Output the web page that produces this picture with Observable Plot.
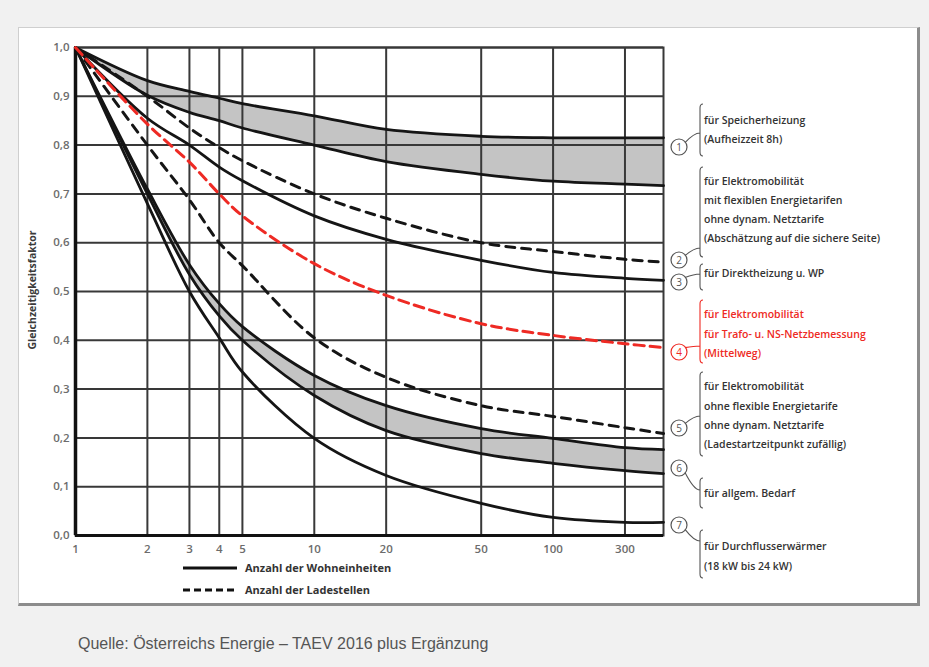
<!DOCTYPE html>
<html><head><meta charset="utf-8">
<script src="https://cdn.jsdelivr.net/npm/d3@7"></script>
<script src="https://cdn.jsdelivr.net/npm/@observablehq/plot@0.6"></script>
<style>
body{margin:0;background:#f1f1f1;width:929px;height:667px;position:relative;overflow:hidden}
#panel{position:absolute;left:18px;top:27px;width:902px;height:579px;background:#fff;border-top:1px solid #cfcfcf;border-left:1px solid #cfcfcf;border-right:3px solid #8c8c8c;border-bottom:3px solid #8c8c8c;box-sizing:border-box}
#chart{position:absolute;left:15px;top:28px}
#caption{position:absolute;left:78px;top:635px;font-family:"Liberation Sans",Arial,sans-serif;font-size:16px;color:#555}
</style></head><body>
<div id="panel"></div><div id="chart"></div>
<div id="caption">Quelle: Österreichs Energie – TAEV 2016 plus Ergänzung</div>
<script>
// ---- data ----
const xs = [1, 2, 3, 4, 5, 10, 20, 50, 100, 200, 290];
const c1Upper = [1.0, 0.932, 0.91, 0.896, 0.885, 0.86, 0.832, 0.818, 0.815, 0.815, 0.815];
const c1Lower = [1.0, 0.902, 0.867, 0.85, 0.835, 0.80, 0.766, 0.74, 0.726, 0.72, 0.717];
const c2Dashed = [1.0, 0.90, 0.835, 0.795, 0.768, 0.70, 0.65, 0.60, 0.582, 0.566, 0.56];
const c3Solid = [1.0, 0.855, 0.80, 0.755, 0.727, 0.655, 0.607, 0.564, 0.539, 0.527, 0.523];
const c4Red = [1.0, 0.843, 0.765, 0.70, 0.655, 0.557, 0.492, 0.434, 0.41, 0.393, 0.385];
const c5Dashed = [1.0, 0.80, 0.688, 0.60, 0.553, 0.405, 0.324, 0.266, 0.244, 0.221, 0.209];
const c6Upper = [1.0, 0.71, 0.555, 0.475, 0.428, 0.328, 0.266, 0.219, 0.199, 0.18, 0.176];
const c6Lower = [1.0, 0.70, 0.535, 0.45, 0.40, 0.287, 0.215, 0.168, 0.148, 0.133, 0.127];
const c7Solid = [1.0, 0.68, 0.50, 0.405, 0.335, 0.199, 0.123, 0.066, 0.037, 0.027, 0.027];

const xTicks = [1, 2, 3, 4, 5, 10, 20, 50, 100, 200];
const xTickLabels = ["1", "2", "3", "4", "5", "10", "20", "50", "100", "300"];
const yTicks = [0, 0.1, 0.2, 0.3, 0.4, 0.5, 0.6, 0.7, 0.8, 0.9, 1.0];

const yLabel = "Gleichzeitigkeitsfaktor";
const legendLabels = ["Anzahl der Wohneinheiten", "Anzahl der Ladestellen"];
const notes = [
  {n: "1", lines: ["für Speicherheizung", "(Aufheizzeit 8h)"], red: false},
  {n: "2", lines: ["für Elektromobilität", "mit flexiblen Energietarifen", "ohne dynam. Netztarife", "(Abschätzung auf die sichere Seite)"], red: false},
  {n: "3", lines: ["für Direktheizung u. WP"], red: false},
  {n: "4", lines: ["für Elektromobilität", "für Trafo- u. NS-Netzbemessung", "(Mittelweg)"], red: true},
  {n: "5", lines: ["für Elektromobilität", "ohne flexible Energietarife", "ohne dynam. Netztarife", "(Ladestartzeitpunkt zufällig)"], red: false},
  {n: "6", lines: ["für allgem. Bedarf"], red: false},
  {n: "7", lines: ["für Durchflusserwärmer", "(18 kW bis 24 kW)"], red: false}
];

// ---- layout (page px) ----
const noteLayout = [
  {cy: 147, top: 104, bot: 156, join: 133, ty: [120, 139]},
  {cy: 260, top: 167, bot: 257, join: 248, ty: [181, 200, 219, 238]},
  {cy: 282, top: 264, bot: 290, join: 274, ty: [273]},
  {cy: 352, top: 300, bot: 363, join: 346, ty: [314, 334, 353]},
  {cy: 428, top: 372, bot: 456, join: 416, ty: [386, 406, 425, 444]},
  {cy: 468, top: 478, bot: 508, join: 490, ty: [493]},
  {cy: 525, top: 530, bot: 578, join: 541, ty: [546, 566]}
];

const rows = ys => xs.map((x, i) => ({x, y: ys[i]}));
const band = (lo, hi) => xs.map((x, i) => ({x, y1: lo[i], y2: hi[i]}));
const grid = "#383838";
const curve = "catmull-rom";

const plot = Plot.plot({
  width: 905, height: 577,
  marginLeft: 60, marginRight: 257, marginTop: 19, marginBottom: 70,
  style: {background: "transparent", overflow: "visible", fontFamily: "'Open Sans', sans-serif", fontSize: "11.5px", color: "#6c6c6c"},
  x: {type: "log", domain: [1, 290], ticks: xTicks, tickSize: 0, tickPadding: 9, label: null,
      tickFormat: d => xTickLabels[xTicks.findIndex(t => Math.abs(t - d) < 1e-9)]},
  y: {domain: [0, 1], ticks: yTicks, tickSize: 0, tickPadding: 6, label: null,
      tickFormat: d => d.toFixed(1).replace(".", ",")},
  marks: [
    Plot.areaY(band(c1Lower, c1Upper), {x: "x", y1: "y1", y2: "y2", fill: "#c4c4c4", curve}),
    Plot.areaY(band(c6Lower, c6Upper), {x: "x", y1: "y1", y2: "y2", fill: "#c4c4c4", curve}),
    Plot.ruleY(yTicks, {stroke: grid, strokeWidth: 2}),
    Plot.ruleX(xTicks, {stroke: grid, strokeWidth: 2}),
    Plot.frame({stroke: grid, strokeWidth: 2}),
    Plot.ruleX([xTicks[0]], {stroke: "#111", strokeWidth: 3.5}),
    Plot.ruleY([yTicks[0]], {stroke: "#111", strokeWidth: 3}),
    Plot.line(rows(c1Upper), {x: "x", y: "y", stroke: "#151515", strokeWidth: 2.8, curve}),
    Plot.line(rows(c1Lower), {x: "x", y: "y", stroke: "#151515", strokeWidth: 2.8, curve}),
    Plot.line(rows(c3Solid), {x: "x", y: "y", stroke: "#151515", strokeWidth: 2.8, curve}),
    Plot.line(rows(c6Upper), {x: "x", y: "y", stroke: "#151515", strokeWidth: 2.8, curve}),
    Plot.line(rows(c6Lower), {x: "x", y: "y", stroke: "#151515", strokeWidth: 2.8, curve}),
    Plot.line(rows(c7Solid), {x: "x", y: "y", stroke: "#151515", strokeWidth: 2.8, curve}),
    Plot.line(rows(c2Dashed), {x: "x", y: "y", stroke: "#151515", strokeWidth: 3, strokeDasharray: "9,7", curve}),
    Plot.line(rows(c5Dashed), {x: "x", y: "y", stroke: "#151515", strokeWidth: 3, strokeDasharray: "9,7", curve}),
    Plot.line(rows(c4Red), {x: "x", y: "y", stroke: "#ee2a24", strokeWidth: 3, strokeDasharray: "10,6", curve})
  ]
});

const svgEl = plot.tagName.toLowerCase() === "svg" ? plot : plot.querySelector("svg");
document.getElementById("chart").appendChild(plot);
const svg = d3.select(svgEl);
svg.selectAll("g[aria-label*='tick label'] text").attr("font-weight", 600);

// overlay in page coordinates
const g = svg.append("g").attr("transform", "translate(-15,-28)")
  .attr("font-family", "'Open Sans', sans-serif").attr("text-anchor", "start");

// y label
g.append("text").attr("transform", "translate(36,290) rotate(-90)")
  .attr("text-anchor", "middle").attr("font-size", 10.5).attr("font-weight", 700)
  .attr("fill", "#3a3a3a").text(yLabel);

// legend
[[568, null], [590, "7,4"]].forEach(([y, dash], i) => {
  g.append("line").attr("x1", 183).attr("x2", 237).attr("y1", y).attr("y2", y)
    .attr("stroke", "#111").attr("stroke-width", 2.8).attr("stroke-dasharray", dash);
  g.append("text").attr("x", 245).attr("y", y).attr("dy", "0.35em").attr("text-anchor", "start")
    .attr("font-size", 11).attr("font-weight", 700).attr("fill", "#333").text(legendLabels[i]);
});

// annotations
notes.forEach((note, i) => {
  const L = noteLayout[i];
  const col = note.red ? "#ee2a24" : "#555";
  const tcol = note.red ? "#ee2a24" : "#333";
  const cx = 679, r = 8, bx = 700;
  g.append("circle").attr("cx", cx).attr("cy", L.cy).attr("r", r)
    .attr("fill", "none").attr("stroke", col).attr("stroke-width", 1.2);
  g.append("text").attr("x", cx).attr("y", L.cy).attr("dy", "0.36em").attr("text-anchor", "middle")
    .attr("font-size", 10).attr("fill", col).text(note.n);
  const up = L.join < L.cy;
  const sx = cx + r * 0.75, sy = L.cy + (up ? -r * 0.55 : r * 0.55);
  g.append("path")
    .attr("d", `M${sx},${sy} Q${bx - 6},${L.join} ${bx},${L.join} M${bx + 3},${L.top} Q${bx},${L.top} ${bx},${L.top + 4} L${bx},${L.bot - 4} Q${bx},${L.bot} ${bx + 3},${L.bot}`)
    .attr("fill", "none").attr("stroke", col).attr("stroke-width", 1.1);
  note.lines.forEach((t, j) => {
    g.append("text").attr("x", 704).attr("y", L.ty[j]).attr("dy", "0.35em").attr("text-anchor", "start")
      .attr("font-size", 10.5).attr("font-weight", 600).attr("fill", tcol).text(t);
  });
});
</script>
</body></html>
